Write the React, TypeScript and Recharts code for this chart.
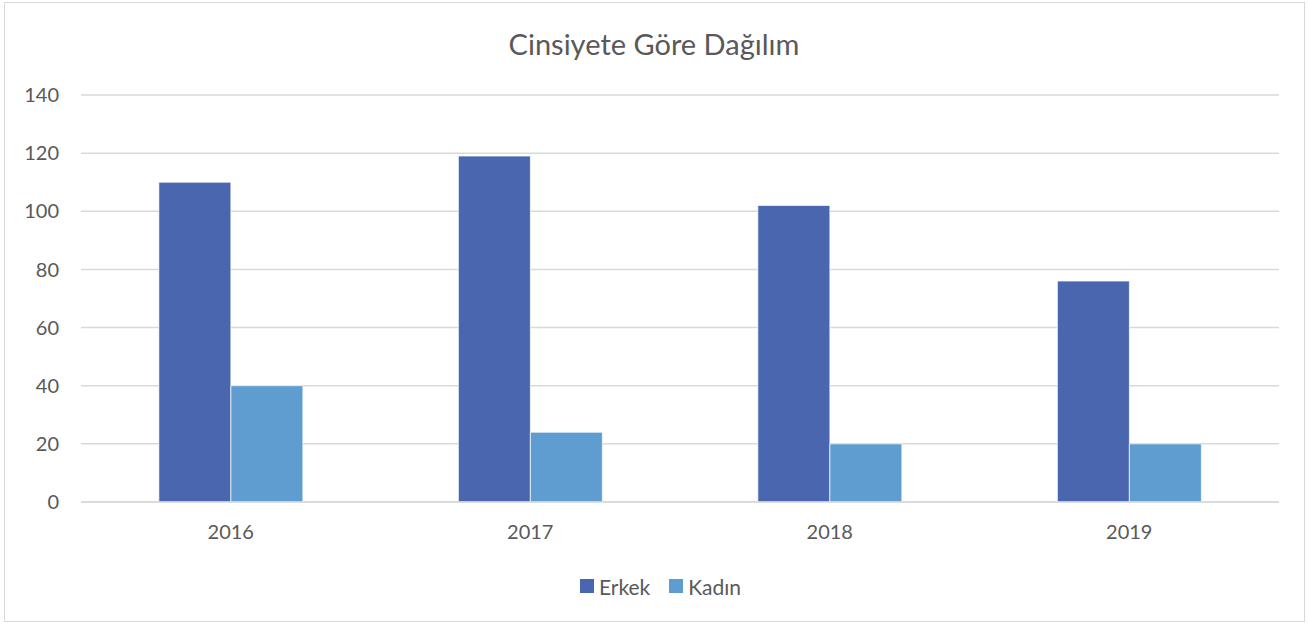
import React from "react";
import { BarChart, Bar, XAxis, YAxis, CartesianGrid, Legend } from "recharts";

const years = ["2016", "2017", "2018", "2019"];
const erkek = [110, 119, 102, 76];
const kadin = [40, 24, 20, 20];
const yTicks = [0, 20, 40, 60, 80, 100, 120, 140];

const data = years.map((y, i) => ({ year: y, Erkek: erkek[i], Kadın: kadin[i] }));

const FONT = "Lato, 'Open Sans', sans-serif";
const TEXT = "#595959";

const renderLegend = (props: any) => {
  const { payload } = props;
  return (
    <div style={{ display: "flex", justifyContent: "center", alignItems: "center", height: 30, paddingLeft: 42, fontFamily: FONT, fontSize: 21, color: TEXT }}>
      {(payload || []).map((e: any, i: number) => (
        <div key={i} style={{ display: "flex", alignItems: "center", marginLeft: i === 0 ? 0 : 19 }}>
          <span style={{ display: "inline-block", width: 14, height: 14, background: e.color, marginRight: 5 }} />
          <span>{e.value}</span>
        </div>
      ))}
    </div>
  );
};

export default function App() {
  return (
    <div style={{ position: "absolute", left: 0, top: 0, width: 1308, height: 624, background: "#fff", fontFamily: FONT }}>
      <div style={{ position: "absolute", left: 4, top: 2, width: 1299, height: 618, border: "1px solid #d9d9d9" }} />
      <div style={{ position: "absolute", left: 0, top: 26, width: 1308, textAlign: "center", fontSize: 29, color: TEXT, fontFamily: FONT }}>
        Cinsiyete Göre Dağılım
      </div>
      <div style={{ position: "absolute", left: 0, top: 0 }}>
        <BarChart
          width={1308}
          height={624}
          data={data}
          margin={{ top: 95, right: 29, left: 0, bottom: 23 }}
          barCategoryGap="26%"
          barGap={0}
        >
          <CartesianGrid vertical={false} stroke="#d9d9d9" strokeWidth={1.5} />
          <XAxis
            dataKey="year"
            axisLine={{ stroke: "#d9d9d9", strokeWidth: 1.5 }}
            tickLine={false}
            tickSize={0}
            tickMargin={23}
            height={69}
            tick={{ fill: TEXT, fontSize: 20, fontFamily: FONT }}
          />
          <YAxis
            width={81}
            domain={[0, 140]}
            ticks={yTicks}
            axisLine={false}
            tickLine={false}
            tickSize={0}
            tickMargin={22}
            tick={{ fill: TEXT, fontSize: 20, fontFamily: FONT }}
          />
          <Legend
            verticalAlign="bottom"
            align="center"
            height={30}
            content={renderLegend}
            wrapperStyle={{ height: 30 }}
          />
          <Bar dataKey="Erkek" fill="#4966AE" stroke="#ffffff" strokeWidth={0.7} isAnimationActive={false} />
          <Bar dataKey="Kadın" fill="#5F9DD1" stroke="#ffffff" strokeWidth={0.7} isAnimationActive={false} />
        </BarChart>
      </div>
    </div>
  );
}
